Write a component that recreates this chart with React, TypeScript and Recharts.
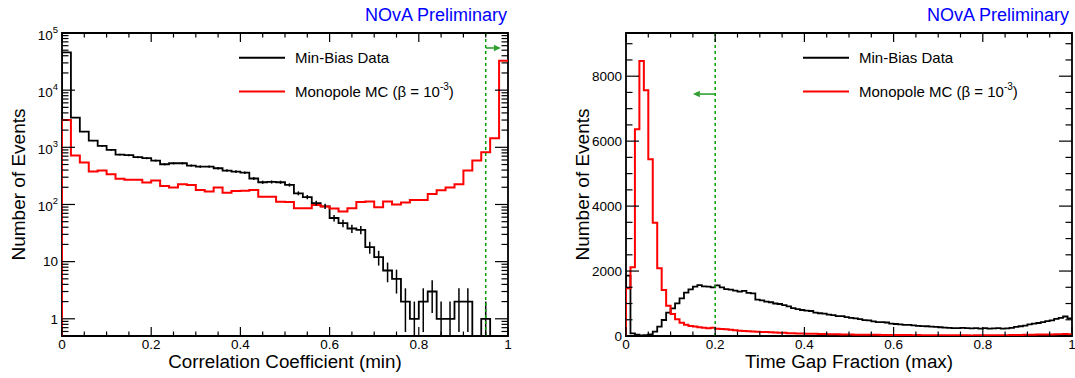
import React from "react";
import {
  ComposedChart,
  Line,
  Scatter,
  ErrorBar,
  XAxis,
  YAxis,
  ReferenceLine,
  ReferenceArea,
} from "recharts";

const FONT = '"Liberation Sans", Arial, Helvetica, sans-serif';

// Left: Correlation Coefficient (min), 50 bins of 0.02
const CORR_BIN = 0.02;
const corrMinBias = [
  46000, 3300, 1880, 1310, 1060, 900, 746, 728, 671, 645,
  586, 506, 526, 526, 479, 460, 460, 430, 392, 376,
  360, 285, 245, 248, 245, 220, 157, 135, 106, 93,
  58, 47, 38, 36, 18, 12, 7, 5, 2, 1,
  2, 3, 1, 1, 2, 2, 0, 1, 0, 0,
];
const corrMonopole = [
  3010, 716, 540, 376, 392, 339, 281, 270, 270, 242,
  262, 211, 198, 226, 220, 180, 168, 198, 161, 172,
  174, 180, 137, 137, 112, 110, 86, 86, 98, 92,
  85, 75, 86, 110, 113, 89, 113, 100, 108, 120,
  120, 153, 177, 198, 226, 392, 586, 820, 1445, 32800,
];
const CORR_CUT = 0.95;

// Right: Time Gap Fraction (max), 100 bins of 0.01
const GAP_BIN = 0.01;
const gapMinBias = [
  1860, 80, 40, 20, 25, 50, 133, 287, 492, 718,
  851, 1005, 1159, 1333, 1436, 1518, 1569, 1530, 1518, 1497,
  1560, 1500, 1446, 1430, 1400, 1364, 1390, 1330, 1310, 1120,
  1100, 1060, 1040, 1000, 985, 950, 910, 860, 830, 800,
  780, 770, 720, 700, 690, 660, 640, 615, 610, 580,
  560, 545, 520, 490, 480, 450, 430, 425, 415, 380,
  370, 360, 345, 340, 330, 310, 305, 300, 290, 280,
  270, 255, 250, 245, 240, 250, 240, 235, 245, 230,
  240, 225, 235, 240, 230, 235, 250, 280, 300, 320,
  360, 380, 400, 430, 460, 480, 530, 560, 600, 540,
];
const gapMonopole = [
  1467, 2114, 6370, 8470, 7570, 5446, 3487, 2083, 1415, 932,
  677, 513, 410, 348, 308, 296, 267, 257, 236, 257,
  226, 216, 205, 190, 180, 165, 155, 148, 140, 132,
  126, 122, 118, 105, 100, 98, 88, 85, 80, 78,
  72, 70, 66, 60, 62, 55, 52, 54, 48, 45,
  44, 42, 40, 41, 37, 36, 35, 33, 34, 31,
  30, 30, 28, 29, 26, 27, 25, 24, 25, 23,
  22, 23, 21, 22, 20, 21, 20, 19, 21, 20,
  22, 21, 23, 24, 26, 25, 28, 30, 32, 35,
  38, 40, 44, 46, 50, 48, 52, 55, 58, 56,
];
const GAP_CUT = 0.2;

const X_TICKS = [
  0, 0.05, 0.1, 0.15, 0.2, 0.25, 0.3, 0.35, 0.4, 0.45, 0.5,
  0.55, 0.6, 0.65, 0.7, 0.75, 0.8, 0.85, 0.9, 0.95, 1,
];
const X_LABELS = [0, 0.2, 0.4, 0.6, 0.8, 1];

const LOG_TICKS = [
  0.6, 0.7, 0.8, 0.9,
  1, 2, 3, 4, 5, 6, 7, 8, 9,
  10, 20, 30, 40, 50, 60, 70, 80, 90,
  100, 200, 300, 400, 500, 600, 700, 800, 900,
  1000, 2000, 3000, 4000, 5000, 6000, 7000, 8000, 9000,
  10000, 20000, 30000, 40000, 50000, 60000, 70000, 80000, 90000,
  100000,
];
const LOG_DOMAIN: [number, number] = [0.5, 100000];

const LIN_TICKS = [
  0, 500, 1000, 1500, 2000, 2500, 3000, 3500, 4000, 4500,
  5000, 5500, 6000, 6500, 7000, 7500, 8000, 8500, 9000,
];
const LIN_LABELS = [0, 2000, 4000, 6000, 8000];
const LIN_DOMAIN: [number, number] = [0, 9330];

// arrow heights and tips for the cut markers
const CORR_ARROW = { y: 54700, tip: 0.984 };
const GAP_ARROW = { y: 7450, tip: 0.15 };

const PLOT_W = 446;
const PLOT_H = 303;
const TOP = 33;
const CHART_H = 378;
const GREEN = "#00a000";

type Geo = { left: number; right: number; top: number; bottom: number };
type Pt = { x: number; y: number };

function histPoints(values: number[], bin: number, floor: number): Pt[] {
  const pts: Pt[] = [{ x: 0, y: floor }];
  values.forEach((v, i) => pts.push({ x: i * bin, y: Math.max(v, floor) }));
  pts.push({ x: 1, y: Math.max(values[values.length - 1], floor) });
  return pts;
}

function poissonErrors(values: number[], bin: number, floor: number) {
  return values
    .map((v, i) => ({ v, i }))
    .filter((d) => d.v > 0)
    .map(({ v, i }) => {
      const s = Math.sqrt(v);
      return { x: (i + 0.5) * bin, y: v, err: [v - Math.max(v - s, floor), s] };
    });
}

const EmptyShape = () => <g />;

function ArrowShape(props: any) {
  const { x1, y1, x2, y2 } = props;
  const dir = Math.sign(x2 - x1);
  const head = 7;
  const c = "#2f9f2f";
  return (
    <g>
      <line x1={x1} y1={y1} x2={x2 - dir * head} y2={y2} stroke={c} strokeWidth={1.6} />
      <polygon
        points={`${x2},${y2} ${x2 - dir * head},${y2 - 3.2} ${x2 - dir * head},${y2 + 3.2}`}
        fill={c}
      />
    </g>
  );
}

function XTick(props: any) {
  const { x, payload, geo } = props as { x: number; payload: { value: number }; geo: Geo };
  const v = payload.value;
  const major = X_LABELS.includes(v);
  const len = major ? 9 : 4.5;
  return (
    <g>
      <line x1={x} x2={x} y1={geo.bottom} y2={geo.bottom - len} stroke="#000" strokeWidth={1.2} />
      <line x1={x} x2={x} y1={geo.top} y2={geo.top + len} stroke="#000" strokeWidth={1.2} />
      {major && (
        <text x={x} y={geo.bottom + 13.2} textAnchor="middle" fontSize={13.5} fill="#000" fontFamily={FONT}>
          {String(v)}
        </text>
      )}
    </g>
  );
}

function YTick(props: any) {
  const { y, payload, geo, log } = props as {
    y: number;
    payload: { value: number };
    geo: Geo;
    log: boolean;
  };
  const v = payload.value;
  const e = Math.log10(v);
  const major = log ? Math.abs(e - Math.round(e)) < 1e-9 : LIN_LABELS.includes(v);
  const len = major ? 13 : 6.5;
  const lx = geo.left - 4;
  let label: React.ReactNode = null;
  if (major) {
    if (!log) {
      label = (
        <text x={lx} y={y + 4.8} textAnchor="end" fontSize={13.5} fill="#000" fontFamily={FONT}>
          {String(v)}
        </text>
      );
    } else {
      const p = Math.round(e);
      label =
        p <= 1 ? (
          <text x={lx} y={y + 4.8} textAnchor="end" fontSize={13.5} fill="#000" fontFamily={FONT}>
            {p === 0 ? "1" : "10"}
          </text>
        ) : (
          <text x={lx} y={y + 6.5} textAnchor="end" fontSize={13.5} fill="#000" fontFamily={FONT}>
            10
            <tspan dy={-7} fontSize={9.5}>
              {p}
            </tspan>
          </text>
        );
    }
  }
  return (
    <g>
      <line x1={geo.left} x2={geo.left + len} y1={y} y2={y} stroke="#000" strokeWidth={1.2} />
      <line x1={geo.right} x2={geo.right - len} y1={y} y2={y} stroke="#000" strokeWidth={1.2} />
      {label}
    </g>
  );
}

type PanelProps = {
  yAxisWidth: number;
  marginRight: number;
  log: boolean;
  yDomain: [number, number];
  yTicks: number[];
  black: Pt[];
  red: Pt[];
  errors?: { x: number; y: number; err: number[] }[];
  cut: number;
  arrow: { y: number; tip: number };
  xTitle: string;
  yTitleOffset: number;
};

function Panel(p: PanelProps) {
  const geo: Geo = {
    left: p.yAxisWidth,
    right: p.yAxisWidth + PLOT_W,
    top: TOP,
    bottom: TOP + PLOT_H,
  };
  return (
    <ComposedChart
      width={p.yAxisWidth + PLOT_W + p.marginRight}
      height={CHART_H}
      margin={{ top: TOP, right: p.marginRight, bottom: 0, left: 0 }}
    >
      <XAxis
        type="number"
        dataKey="x"
        domain={[0, 1]}
        ticks={X_TICKS}
        interval={0}
        allowDataOverflow
        axisLine={false}
        tickLine={false}
        tickSize={0}
        height={CHART_H - TOP - PLOT_H}
        tick={(t: any) => <XTick {...t} geo={geo} />}
        label={{
          value: p.xTitle,
          position: "insideBottom",
          offset: 10,
          fontSize: 18.8,
          fill: "#000",
          fontFamily: FONT,
        }}
      />
      <YAxis
        type="number"
        dataKey="y"
        scale={p.log ? "log" : "linear"}
        domain={p.yDomain}
        ticks={p.yTicks}
        interval={0}
        allowDataOverflow
        axisLine={false}
        tickLine={false}
        tickSize={0}
        width={p.yAxisWidth}
        tick={(t: any) => <YTick {...t} geo={geo} log={p.log} />}
        label={{
          value: "Number of Events",
          angle: -90,
          position: "insideLeft",
          offset: p.yTitleOffset,
          fontSize: 19,
          fill: "#000",
          fontFamily: FONT,
          style: { textAnchor: "middle" },
        }}
      />
      <ReferenceArea
        x1={0}
        x2={1}
        y1={p.yDomain[0]}
        y2={p.yDomain[1]}
        fill="none"
        stroke="#000"
        strokeWidth={1.8}
        ifOverflow="visible"
      />
      <Line
        data={p.black}
        dataKey="y"
        type="stepAfter"
        stroke="#000"
        strokeWidth={1.8}
        dot={false}
        activeDot={false}
        isAnimationActive={false}
      />
      <Line
        data={p.red}
        dataKey="y"
        type="stepAfter"
        stroke="#ff0000"
        strokeWidth={2}
        dot={false}
        activeDot={false}
        isAnimationActive={false}
      />
      {p.errors && (
        <Scatter data={p.errors} dataKey="y" shape={EmptyShape} isAnimationActive={false}>
          <ErrorBar dataKey="err" direction="y" width={0} stroke="#000" strokeWidth={1.5} />
        </Scatter>
      )}
      <ReferenceLine x={p.cut} stroke={GREEN} strokeDasharray="3 3" strokeWidth={1.5} />
      <ReferenceLine
        segment={[
          { x: p.cut, y: p.arrow.y },
          { x: p.arrow.tip, y: p.arrow.y },
        ]}
        shape={ArrowShape}
      />
    </ComposedChart>
  );
}

function Legend({ lineX, textX }: { lineX: number; textX: number }) {
  return (
    <g fontFamily={FONT} fontSize={15} fill="#000">
      <line x1={lineX} x2={lineX + 46} y1={57.7} y2={57.7} stroke="#000" strokeWidth={2} />
      <text x={textX} y={63.3}>Min-Bias Data</text>
      <line x1={lineX} x2={lineX + 46} y1={91.5} y2={91.5} stroke="#ff0000" strokeWidth={2} />
      <text x={textX} y={97.3}>
        Monopole MC (β = 10
        <tspan dy={-7} fontSize={10}>
          -3
        </tspan>
        <tspan dy={7}>)</tspan>
      </text>
    </g>
  );
}

function Watermark({ right }: { right: number }) {
  return (
    <text x={right} y={20.5} fontSize={18} fill="#0000ff" fontFamily={FONT} textAnchor="end">
      NOvA Preliminary
    </text>
  );
}

export default function App() {
  const corrBlack = histPoints(corrMinBias, CORR_BIN, LOG_DOMAIN[0]);
  const corrRed = histPoints(corrMonopole, CORR_BIN, LOG_DOMAIN[0]);
  const corrErr = poissonErrors(corrMinBias, CORR_BIN, LOG_DOMAIN[0]);
  const gapBlack = histPoints(gapMinBias, GAP_BIN, 0);
  const gapRed = histPoints(gapMonopole, GAP_BIN, 0);

  return (
    <div
      style={{
        position: "absolute",
        left: 0,
        top: 0,
        width: 1075,
        height: 378,
        background: "#fff",
        fontFamily: FONT,
        overflow: "hidden",
      }}
    >
      <div style={{ position: "absolute", left: 0, top: 0 }}>
        <Panel
          yAxisWidth={62}
          marginRight={29}
          log
          yDomain={LOG_DOMAIN}
          yTicks={LOG_TICKS}
          black={corrBlack}
          red={corrRed}
          errors={corrErr}
          cut={CORR_CUT}
          arrow={CORR_ARROW}
          xTitle="Correlation Coefficient (min)"
          yTitleOffset={18.5}
        />
      </div>
      <div style={{ position: "absolute", left: 537, top: 0 }}>
        <Panel
          yAxisWidth={89}
          marginRight={3}
          log={false}
          yDomain={LIN_DOMAIN}
          yTicks={LIN_TICKS}
          black={gapBlack}
          red={gapRed}
          cut={GAP_CUT}
          arrow={GAP_ARROW}
          xTitle="Time Gap Fraction (max)"
          yTitleOffset={45}
        />
      </div>
      <svg
        width={1075}
        height={378}
        style={{ position: "absolute", left: 0, top: 0, pointerEvents: "none" }}
      >
        <Legend lineX={239} textX={295} />
        <Legend lineX={803} textX={859} />
        <Watermark right={507} />
        <Watermark right={1069} />
      </svg>
    </div>
  );
}
